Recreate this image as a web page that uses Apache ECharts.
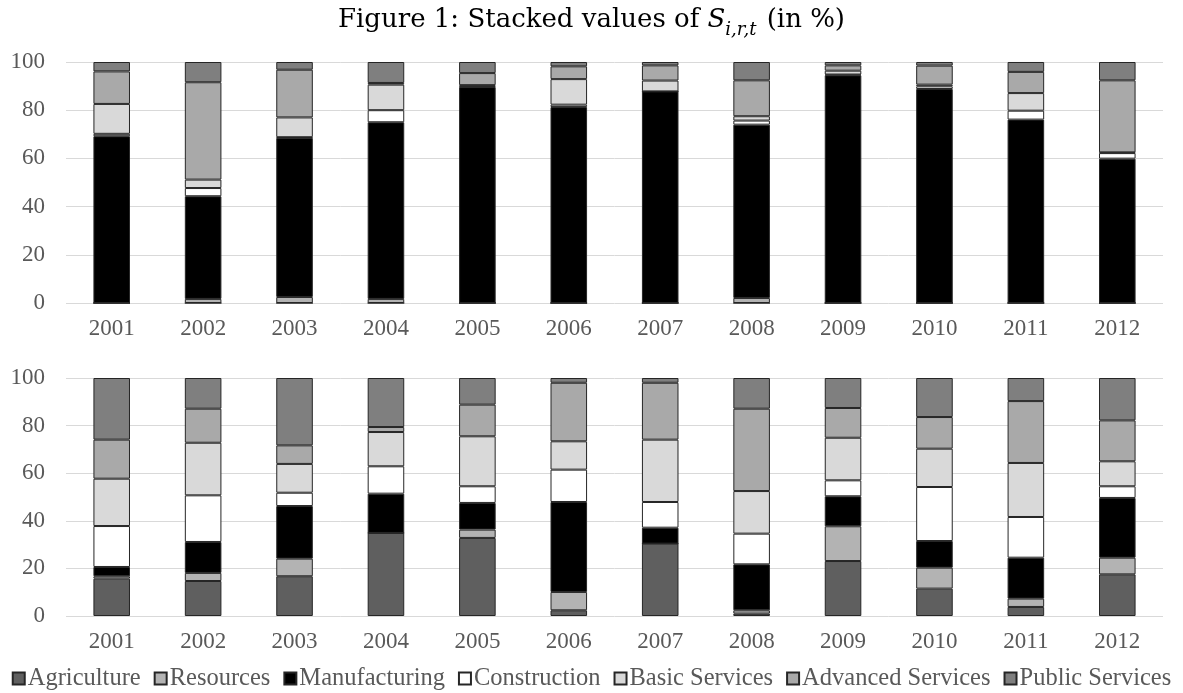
<!DOCTYPE html>
<html>
<head>
<meta charset="utf-8">
<script src="https://cdn.jsdelivr.net/npm/echarts@6/dist/echarts.min.js"></script>
<style>html,body{margin:0;padding:0;background:#fff}#c{width:1183px;height:693px}</style>
</head>
<body>
<div id="c"></div>
<script>
const years = ['2001','2002','2003','2004','2005','2006','2007','2008','2009','2010','2011','2012'];
const sectors = ['Agriculture','Resources','Manufacturing','Construction','Basic Services','Advanced Services','Public Services'];
const yTicks = [0,20,40,60,80,100];

// Top panel
const topAgriculture = [0,0,0,0,0,0,0,0,0,0,0,0];
const topResources = [0,1.7,2.5,1.7,0,0,0,2.1,0,0,0,0];
const topManufacturing = [69.2,42.6,66.0,73.3,89.6,81.3,87.8,71.9,94.5,88.8,76.1,59.9];
const topConstruction = [1.0,3.4,0.3,5.0,0.3,1.0,0,1.7,0.3,1.1,3.7,2.3];
const topBasic = [12.4,3.5,8.2,10.6,0.5,10.6,4.5,1.8,1.6,0.7,7.3,0.3];
const topAdvanced = [13.5,40.4,19.8,0.7,5.0,5.3,6.3,14.9,2.2,7.9,8.8,29.9];
const topPublic = [3.9,8.4,3.2,8.7,4.6,1.8,1.4,7.6,1.4,1.5,4.1,7.6];

// Bottom panel
const botAgriculture = [15.7,14.7,16.7,34.9,32.8,2.4,30.4,1.0,23.1,11.5,3.8,17.5];
const botResources = [1.0,3.4,7.4,0,3.5,7.7,0,1.4,14.6,8.8,3.5,7.0];
const botManufacturing = [3.9,13.0,22.1,16.5,11.2,37.8,6.7,19.3,12.6,11.2,17.2,25.1];
const botConstruction = [17.2,19.6,5.6,11.5,7.0,13.6,10.8,12.9,6.7,22.7,17.1,4.9];
const botBasic = [19.9,22.1,12.1,14.4,21.0,11.9,26.2,17.9,17.9,16.1,22.7,10.5];
const botAdvanced = [16.4,14.3,7.8,2.1,13.3,24.6,23.9,34.6,12.5,13.3,26.0,17.2];
const botPublic = [25.9,12.9,28.3,20.6,11.2,2.0,2.0,12.9,12.6,16.4,9.7,17.8];

const topData = [topAgriculture,topResources,topManufacturing,topConstruction,topBasic,topAdvanced,topPublic];
const botData = [botAgriculture,botResources,botManufacturing,botConstruction,botBasic,botAdvanced,botPublic];
const colors = ['#5f5f5f','#b3b3b3','#000000','#ffffff','#d9d9d9','#a9a9a9','#7f7f7f'];

const serif = 'Liberation Serif';
const titleFont = 'DejaVu Serif';
const labelColor = '#595959';

function xAxis(gi){
  return {type:'category', gridIndex:gi, data:years,
    axisLine:{show:false}, axisTick:{show:false},
    axisLabel:{color:labelColor, fontFamily:serif, fontSize:23, margin:14}};
}
function yAxis(gi){
  return {type:'value', gridIndex:gi, min:0, max:100, interval:20,
    axisLine:{show:false}, axisTick:{show:false},
    splitLine:{lineStyle:{color:'#d9d9d9', width:1}},
    axisLabel:{color:labelColor, fontFamily:serif, fontSize:23, margin:21,
      formatter:v=> yTicks.includes(v) ? String(v) : ''}};
}

const series = [];
[topData, botData].forEach((dataSet, gi)=>{
  sectors.forEach((name, si)=>{
    series.push({
      name, type:'bar', stack:'s'+gi, xAxisIndex:gi, yAxisIndex:gi,
      barWidth:'40%', data:dataSet[si],
      itemStyle:{color:colors[si], borderColor:'#262626', borderWidth:1},
      emphasis:{disabled:true}
    });
  });
});

const chart = echarts.init(document.getElementById('c'));
chart.setOption({
  animation:false,
  title:{
    left:'center', top:2,
    text:'{m|Figure 1: Stacked values of }{it|S}{sub|i,r,t}{m| (in %)}',
    textStyle:{
      fontWeight:'normal',
      rich:{
        m:{fontFamily:titleFont, fontSize:26, fontWeight:'normal', color:'#000', padding:[0,0,6,0], verticalAlign:'bottom'},
        it:{fontFamily:titleFont, fontSize:26, fontStyle:'italic', fontWeight:'normal', color:'#000', padding:[0,0,6,0], verticalAlign:'bottom'},
        sub:{fontFamily:titleFont, fontSize:18, fontStyle:'italic', fontWeight:'normal', color:'#000', verticalAlign:'bottom', padding:[0,2,0,0]}
      }
    }
  },
  legend:{
    data:sectors, bottom:2, left:'center', width:1183, padding:0, icon:'rect', itemWidth:12, itemHeight:12, itemGap:13,
    textStyle:{color:labelColor, fontFamily:serif, fontSize:24.5, padding:[0,0,0,-2]}
  },
  grid:[
    {left:66, right:20, top:62, height:241},
    {left:66, right:20, top:378, height:238}
  ],
  xAxis:[xAxis(0), xAxis(1)],
  yAxis:[yAxis(0), yAxis(1)],
  series
});
</script>
</body>
</html>
